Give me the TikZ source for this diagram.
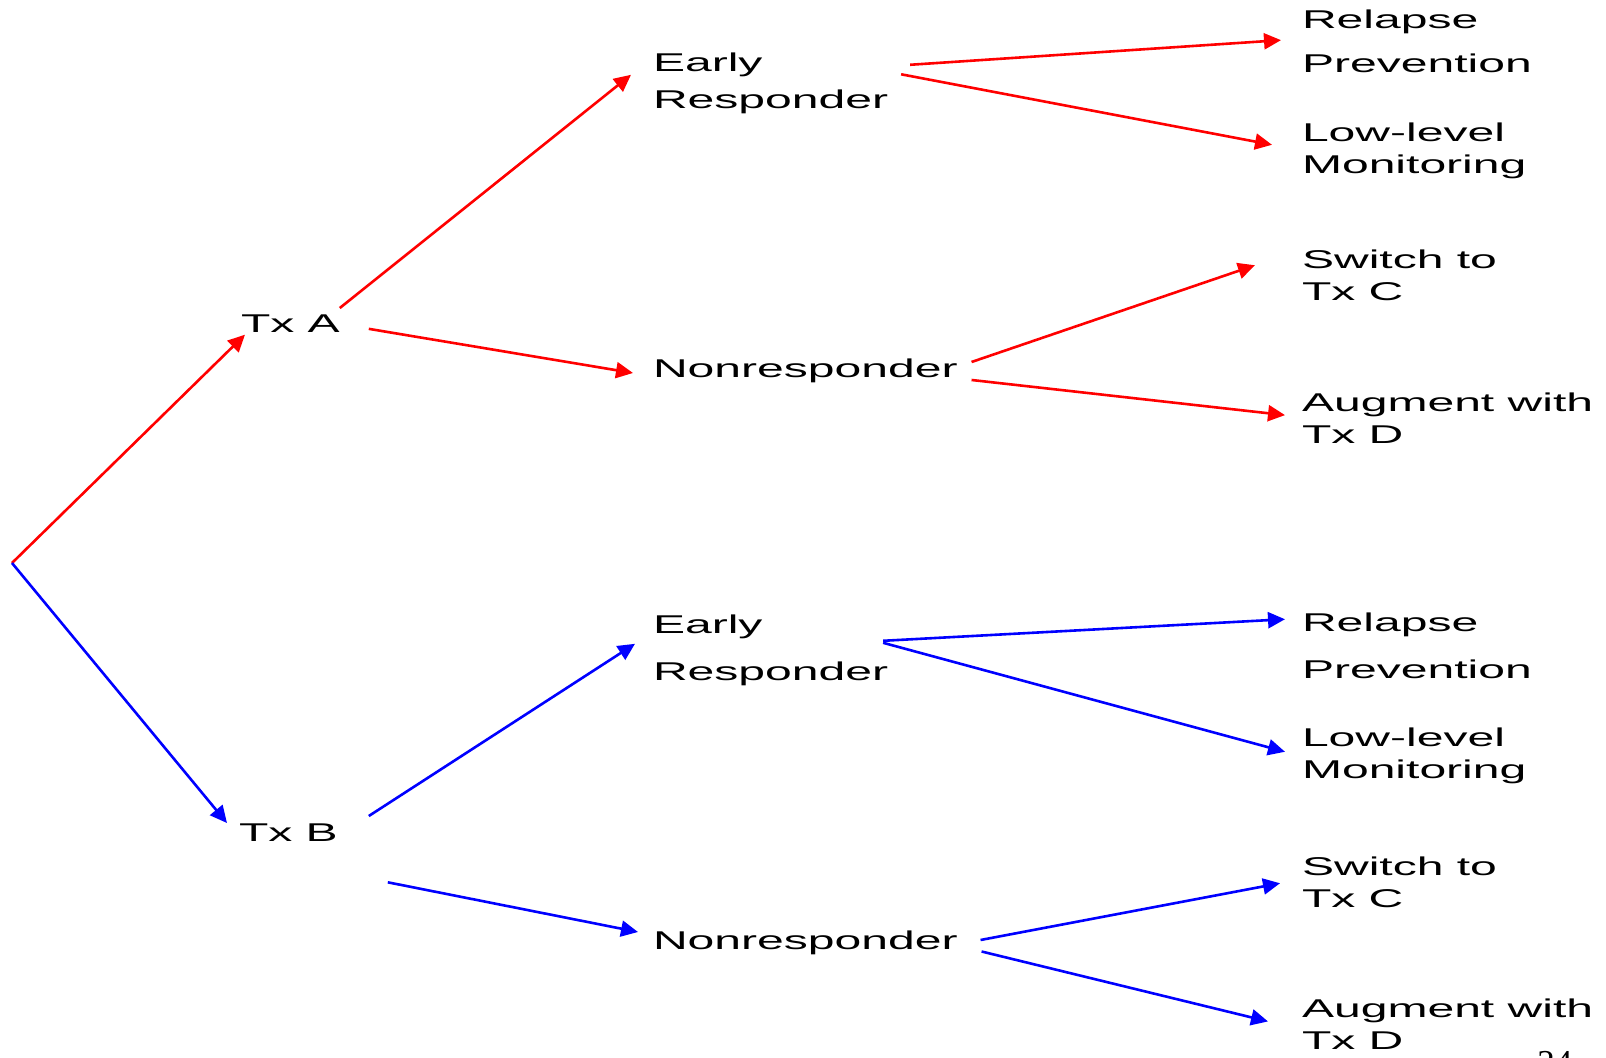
\documentclass[tikz,border=0pt]{standalone}
\usepackage{fontspec}
\setmainfont{Liberation Sans}[FakeStretch=1.87]
\newfontfamily\pagefont{Liberation Serif}
\usetikzlibrary{arrows.meta}

\begin{document}
\begin{tikzpicture}[x=0.5pt,y=-0.5pt,
  lbl/.style={anchor=north west,inner sep=0pt,outer sep=0pt,align=left,font=\fontsize{12.85}{15.8}\selectfont},
  redarr/.style={draw=red,line width=1.3pt,-{Triangle[length=8.5pt,width=8pt]}},
  bluearr/.style={draw=blue,line width=1.3pt,-{Triangle[length=8.5pt,width=8pt]}}]
\useasboundingbox (0,0) rectangle (1606,1057);

\coordinate (root) at (12,563);
\node[lbl] (txa) at (241,315) {Tx A};
\node[lbl] (txb) at (239,824) {Tx B};

\node[lbl] (era) at (653,53) {Early\\[2.5pt]Responder};
\node[lbl] (nra) at (653,359) {Nonresponder};
\node[lbl] (erb) at (653,615) {Early\\[7.5pt]Responder};
\node[lbl] (nrb) at (653,931) {Nonresponder};

\node[lbl] (rpa) at (1302,10) {Relapse\\[5.9pt]Prevention};
\node[lbl] (lma) at (1302,123) {Low-level\\Monitoring};
\node[lbl] (swa) at (1302,250) {Switch to\\Tx C};
\node[lbl] (aga) at (1302,393) {Augment with\\Tx D};
\node[lbl] (rpb) at (1302,613) {Relapse\\[7.5pt]Prevention};
\node[lbl] (lmb) at (1302,728) {Low-level\\Monitoring};
\node[lbl] (swb) at (1302,857) {Switch to\\Tx C};
\node[lbl] (agb) at (1302,999) {Augment with\\Tx D};
\node[anchor=base west,inner sep=0pt,font=\pagefont\fontsize{17.5}{20}\selectfont] (pg) at (1537,1074) {24};

\draw[redarr] (root) -- ([shift={(4,2)}]txa.south west);
\draw[redarr] ([shift={(0,-7)}]txa.north east) -- ([shift={(-22,-8.5)}]era.west);
\draw[redarr] ([shift={(29,5)}]txa.east) -- ([shift={(-20,2)}]nra.west);
\draw[redarr] ([shift={(22,-18.5)}]era.east) -- ([shift={(-21,-1)}]rpa.west);
\draw[redarr] ([shift={(13,-9)}]era.east) -- ([shift={(-30,-6)}]lma.west);
\draw[redarr] ([shift={(14,-9)}]nra.east) -- ([shift={(-47,-10)}]swa.west);
\draw[redarr] ([shift={(14,9)}]nra.east) -- ([shift={(-17,-3)}]aga.west);

\draw[bluearr] (root) -- ([shift={(-12,-1)}]txb.north west);
\draw[bluearr] ([shift={(31,-8)}]txb.north east) -- ([shift={(-18,-6.5)}]erb.west);
\draw[bluearr] ([shift={(50,40.6)}]txb.south east) -- ([shift={(-15,-11)}]nrb.west);
\draw[bluearr] ([shift={(-5,-9.5)}]erb.east) -- ([shift={(-17,-26.5)}]rpb.west);
\draw[bluearr] ([shift={(-5,-7.5)}]erb.east) -- ([shift={(-17,-4)}]lmb.west);
\draw[bluearr] ([shift={(23,-3)}]nrb.east) -- ([shift={(-22,1)}]swb.west);
\draw[bluearr] ([shift={(24,8.5)}]nrb.east) -- ([shift={(-34,-2.7)}]agb.west);
\end{tikzpicture}
\end{document}
